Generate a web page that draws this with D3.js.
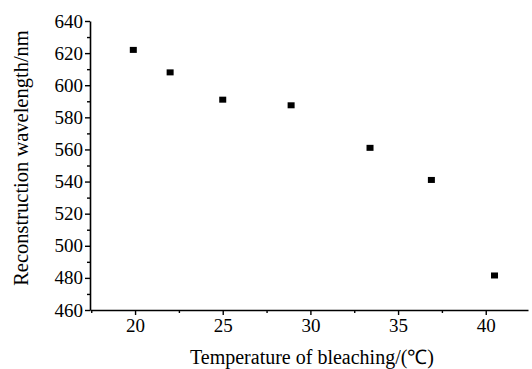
<!DOCTYPE html>
<html><head><meta charset="utf-8">
<script src="https://cdn.jsdelivr.net/npm/d3@7"></script>
<style>body{margin:0;background:#fff}svg{display:block}text{font-family:"Liberation Serif","Times New Roman",serif;fill:#000}</style>
</head><body><svg id="c" width="532" height="369"></svg>
<script>
const temperature = [19.9, 22, 25, 28.9, 33.4, 36.9, 40.5];
const wavelength = [622, 608, 591, 587.5, 561, 541, 481.5];
const xTicks = [20, 25, 30, 35, 40];
const yTicks = [460, 480, 500, 520, 540, 560, 580, 600, 620, 640];
const xLabel = "Temperature of bleaching/(\u2103)";
const yLabel = "Reconstruction wavelength/nm";

const svg = d3.select("#c");
const x = d3.scaleLinear().domain([17.43, 42.41]).range([90, 528]);
const y = d3.scaleLinear().domain([460, 640]).range([310, 21]);

const xMinor = d3.range(17.5, 42.5, 2.5).filter(v => !xTicks.includes(v));
const yMinor = d3.range(470, 640, 20);

const gx = svg.append("g").attr("transform", "translate(0,310)")
  .call(d3.axisBottom(x).tickValues(xTicks).tickSize(5).tickSizeOuter(0).tickPadding(4).tickFormat(d3.format("d")));
gx.selectAll("text").style("font-size", "19px");
svg.append("g").attr("transform", "translate(0,310)")
  .call(d3.axisBottom(x).tickValues(xMinor).tickSize(3).tickSizeOuter(0).tickFormat(""))
  .select(".domain").remove();

const gy = svg.append("g").attr("transform", "translate(90,0)")
  .call(d3.axisLeft(y).tickValues(yTicks).tickSize(5).tickSizeOuter(0).tickPadding(2).tickFormat(d3.format("d")));
gy.selectAll("text").style("font-size", "19px");
svg.append("g").attr("transform", "translate(90,0)")
  .call(d3.axisLeft(y).tickValues(yMinor).tickSize(3).tickSizeOuter(0).tickFormat(""))
  .select(".domain").remove();

svg.selectAll(".domain").attr("stroke-width", 1.6);
svg.selectAll(".tick line").attr("stroke-width", 1.4);

svg.append("text").attr("x", 312).attr("y", 364).attr("text-anchor", "middle")
  .style("font-size", "20px").text(xLabel);
svg.append("text").attr("transform", "translate(28,158) rotate(-90)").attr("text-anchor", "middle")
  .style("font-size", "20.5px").text(yLabel);

svg.append("g").selectAll("rect").data(temperature).join("rect")
  .attr("x", (d) => x(d) - 3.5).attr("y", (d, i) => y(wavelength[i]) - 3)
  .attr("width", 7).attr("height", 6).attr("fill", "#000");
</script></body></html>
